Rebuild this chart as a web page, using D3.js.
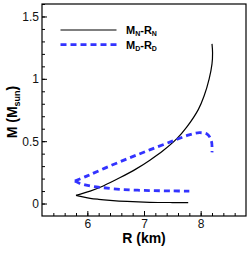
<!DOCTYPE html>
<html>
<head>
<meta charset="utf-8">
<script src="https://cdn.jsdelivr.net/npm/d3@7"></script>
<style>
  body { margin: 0; background: #fff; }
  svg { display: block; font-family: "Liberation Sans", Arial, sans-serif; }
  .tick text { font-size: 12px; fill: #111; }
  .tick line { stroke: #000; stroke-width: 1; }
</style>
</head>
<body>
<div id="chart"></div>
<script>
// M-R curve of the normal star, split at the turning point
const nLowerR = [5.80, 5.90, 6.05, 6.20, 6.40, 6.70, 7.10, 7.50, 7.78];
const nLowerM = [0.066, 0.055, 0.042, 0.034, 0.026, 0.017, 0.010, 0.008, 0.008];
const nUpperR = [5.80, 6.05, 6.28, 6.58, 6.87, 7.11, 7.34, 7.58, 7.75, 7.96, 8.06, 8.15, 8.20, 8.21, 8.20];
const nUpperM = [0.066, 0.100, 0.141, 0.208, 0.280, 0.350, 0.425, 0.520, 0.610, 0.755, 0.862, 1.000, 1.120, 1.210, 1.280];

// M-R curve of the dark star
const dUpperR = [5.78, 6.00, 6.30, 6.70, 7.10, 7.50, 7.78, 7.98, 8.12, 8.19, 8.20];
const dUpperM = [0.180, 0.222, 0.282, 0.358, 0.430, 0.500, 0.548, 0.568, 0.555, 0.500, 0.410];
const dLowerR = [5.78, 5.86, 5.96, 6.10, 6.28, 6.63, 7.10, 7.50, 7.80];
const dLowerM = [0.180, 0.163, 0.150, 0.137, 0.127, 0.112, 0.104, 0.101, 0.100];

const xTicks = [6, 7, 8];
const yTicks = [0, 0.5, 1, 1.5];
const legendNames = [["M", "N", "-R", "N"], ["M", "D", "-R", "D"]];

const W = 249, H = 253;
const margin = {top: 4, right: 3, bottom: 37, left: 42};
const width = W - margin.left - margin.right;
const height = H - margin.top - margin.bottom;

const svg = d3.select("#chart").append("svg")
    .attr("width", W)
    .attr("height", H);

const g = svg.append("g")
    .attr("transform", "translate(" + margin.left + "," + margin.top + ")");

const x = d3.scaleLinear().domain([5.2, 8.8]).range([0, width]);
const y = d3.scaleLinear().domain([-0.1, 1.6]).range([height, 0]);

// minor ticks
g.append("g")
    .attr("transform", "translate(0," + height + ")")
    .call(d3.axisBottom(x).tickValues(d3.range(5.4, 8.7, 0.2)).tickSize(-3).tickFormat(""))
    .call(a => a.select(".domain").remove());
g.append("g")
    .call(d3.axisLeft(y).tickValues(d3.range(0, 1.65, 0.1)).tickSize(-3).tickFormat(""))
    .call(a => a.select(".domain").remove());

// major ticks
g.append("g")
    .attr("transform", "translate(0," + height + ")")
    .call(d3.axisBottom(x).tickValues(xTicks).tickSize(-5).tickPadding(3.5).tickFormat(d3.format("d")))
    .call(a => a.select(".domain").remove());
g.append("g")
    .call(d3.axisLeft(y).tickValues(yTicks).tickSize(-5).tickPadding(3).tickFormat(d => d))
    .call(a => a.select(".domain").remove());

g.append("rect")
    .attr("width", width)
    .attr("height", height)
    .attr("fill", "none")
    .attr("stroke", "#000")
    .attr("stroke-width", 1.2);

const line = d3.line()
    .x(d => x(d[0]))
    .y(d => y(d[1]))
    .curve(d3.curveCatmullRom.alpha(0.5));

const zip = (a, b) => a.map((v, i) => [v, b[i]]);

[[nLowerR, nLowerM], [nUpperR, nUpperM]].forEach(s => {
    g.append("path")
        .attr("d", line(zip(s[0], s[1])))
        .attr("fill", "none")
        .attr("stroke", "#000")
        .attr("stroke-width", 1.2);
});

[[dUpperR, dUpperM], [dLowerR, dLowerM]].forEach(s => {
    g.append("path")
        .attr("d", line(zip(s[0], s[1])))
        .attr("fill", "none")
        .attr("stroke", "#3333ff")
        .attr("stroke-width", 2.8)
        .attr("stroke-dasharray", "6,4");
});

// legend
const legend = svg.append("g");
legendNames.forEach((n, i) => {
    const ly = 30 + i * 14.7;
    legend.append("line")
        .attr("x1", 60.5).attr("x2", 116.5)
        .attr("y1", ly).attr("y2", ly)
        .attr("stroke", i === 0 ? "#000" : "#3333ff")
        .attr("stroke-width", i === 0 ? 1.2 : 2.8)
        .attr("stroke-dasharray", i === 0 ? null : "6,4");
    const t = legend.append("text")
        .attr("x", 126)
        .attr("y", ly + 4)
        .style("font-size", "11px")
        .style("font-weight", "bold");
    t.append("tspan").text(n[0]);
    t.append("tspan").attr("dy", 2).style("font-size", "7px").text(n[1]);
    t.append("tspan").attr("dy", -2).text(n[2]);
    t.append("tspan").attr("dy", 2).style("font-size", "7px").text(n[3]);
});

// axis titles
svg.append("text")
    .attr("x", margin.left + width / 2)
    .attr("y", 243)
    .style("text-anchor", "middle")
    .style("font-size", "14px")
    .style("font-weight", "bold")
    .text("R (km)");

const yt = svg.append("text")
    .attr("transform", "translate(17," + (margin.top + height / 2 + 2) + ") rotate(-90)")
    .style("text-anchor", "middle")
    .style("font-size", "14px")
    .style("font-weight", "bold");
yt.append("tspan").text("M (M");
yt.append("tspan").attr("dy", 3).style("font-size", "9px").text("sun");
yt.append("tspan").attr("dy", -3).text(")");
</script>
</body>
</html>
